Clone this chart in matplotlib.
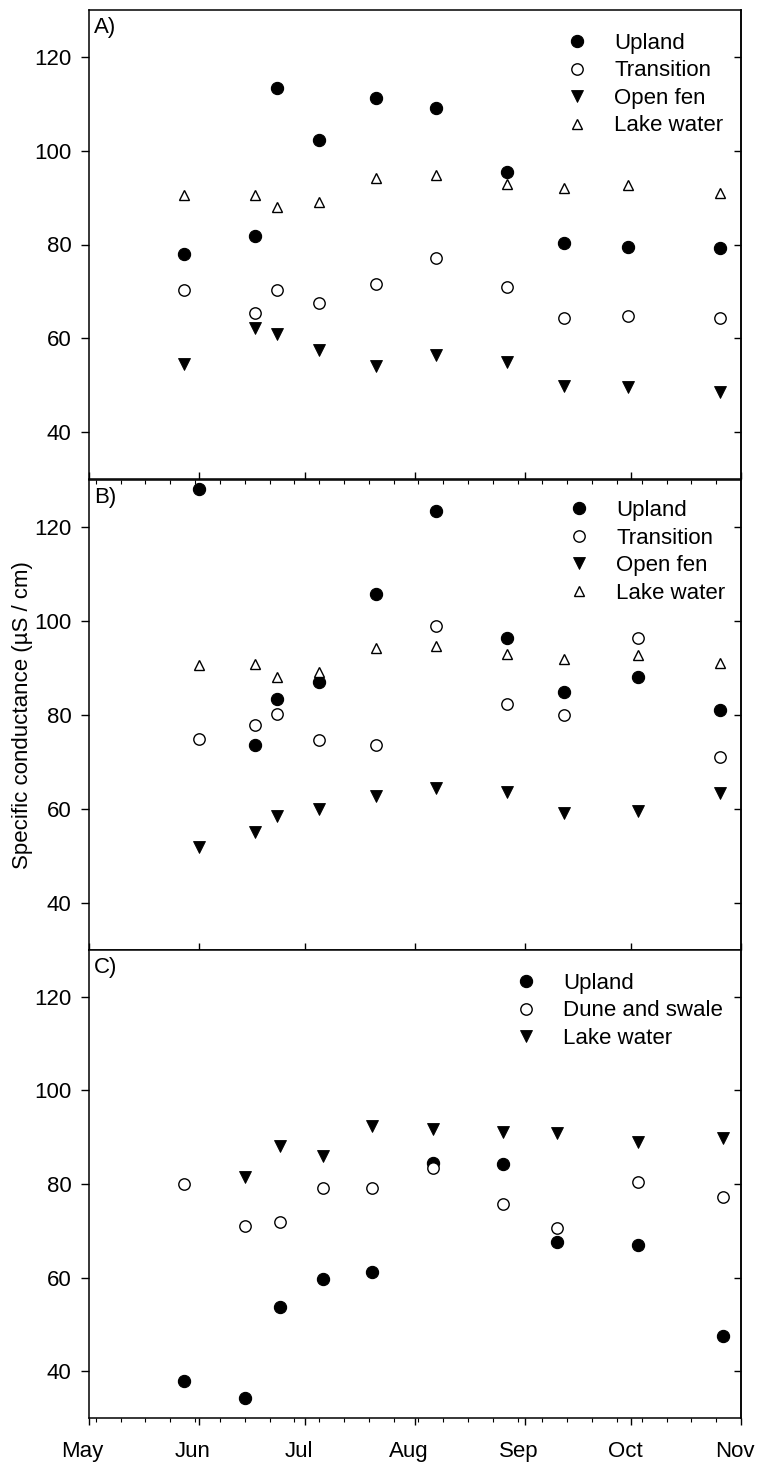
import matplotlib
matplotlib.use("Agg")
import matplotlib.pyplot as plt
import matplotlib.dates as mdates
import matplotlib.transforms as mtransforms
import datetime as dt

plt.rcParams['font.family'] = ['Liberation Sans', 'DejaVu Sans']

# ---------------- data ----------------
dates_A = ["2009-05-28", "2009-06-17", "2009-06-23", "2009-07-05", "2009-07-21",
           "2009-08-07", "2009-08-27", "2009-09-12", "2009-09-30", "2009-10-26"]
upland_A = [77.9, 81.9, 113.4, 102.3, 111.2, 109.2, 95.4, 80.3, 79.5, 79.2]
transition_A = [70.4, 65.3, 70.4, 67.5, 71.6, 77.1, 70.9, 64.3, 64.8, 64.4]
openfen_A = [54.5, 62.3, 60.9, 57.5, 54.2, 56.4, 55.0, 49.9, 49.7, 48.6]
lake_A = [90.6, 90.6, 88.1, 89.1, 94.2, 94.8, 93.0, 92.0, 92.7, 91.0]

dates_B = ["2009-06-01", "2009-06-17", "2009-06-23", "2009-07-05", "2009-07-21",
           "2009-08-07", "2009-08-27", "2009-09-12", "2009-10-03", "2009-10-26"]
upland_B = [128.1, 73.6, 83.3, 87.1, 105.7, 123.3, 96.4, 84.8, 88.1, 81.1]
transition_B = [75.0, 77.9, 80.2, 74.7, 73.6, 98.9, 82.3, 79.9, 96.4, 71.0]
openfen_B = [52.0, 55.2, 58.5, 60.1, 62.8, 64.4, 63.7, 59.1, 59.6, 63.3]
lake_B = [90.6, 90.8, 88.0, 89.1, 94.3, 94.7, 93.0, 92.0, 92.7, 91.1]

dates_C = ["2009-05-28", "2009-06-14", "2009-06-24", "2009-07-06", "2009-07-20",
           "2009-08-06", "2009-08-26", "2009-09-10", "2009-10-03", "2009-10-27"]
upland_C = [37.9, 34.3, 53.7, 59.7, 61.2, 84.4, 84.2, 67.7, 67.0, 47.6]
dune_C = [79.9, 71.0, 71.8, 79.1, 79.2, 83.4, 75.7, 70.6, 80.4, 77.2]
dates_C_lake = dates_C[1:]
lake_C = [81.6, 88.2, 85.9, 92.5, 91.7, 91.2, 90.8, 89.0, 89.9]

month_labels = ["May", "Jun", "Jul", "Aug", "Sep", "Oct", "Nov"]
ytick_vals = [40, 60, 80, 100, 120]
panel_labels = ["A)", "B)", "C)"]
legend_A = ["Upland", "Transition", "Open fen", "Lake water"]
legend_C = ["Upland", "Dune and swale", "Lake water"]
ylabel = "Specific conductance (µS / cm)"


def todates(lst):
    return [dt.datetime.strptime(s, "%Y-%m-%d") for s in lst]


FS = 16
W, H = 761, 1469
fig = plt.figure(figsize=(W / 100, H / 100), dpi=100)

left = 88.7 / W
width = 652.3 / W
rects = [(10, 479), (480, 950), (950, 1418)]
axes = []
for (t, b) in rects:
    ax = fig.add_axes([left, (H - b) / H, width, (b - t) / H])
    axes.append(ax)

st_fill = dict(marker='o', ms=8.8, mfc='black', mec='black', mew=0.8, ls='none')
st_open = dict(marker='o', ms=8.2, mfc='white', mec='black', mew=1.0, ls='none')
st_down = dict(marker='v', ms=8.6, mfc='black', mec='black', mew=0.6, ls='none')
st_up = dict(marker='^', ms=7.8, mfc='white', mec='black', mew=1.0, ls='none')

xmin = dt.datetime(2009, 5, 1)
xmax = dt.datetime(2009, 11, 1)

# Panel A
ax = axes[0]
dA = todates(dates_A)
ax.plot(dA, upland_A, label=legend_A[0], **st_fill)
ax.plot(dA, transition_A, label=legend_A[1], **st_open)
ax.plot(dA, openfen_A, label=legend_A[2], **st_down)
ax.plot(dA, lake_A, label=legend_A[3], **st_up)

# Panel B
ax = axes[1]
dB = todates(dates_B)
ax.plot(dB, upland_B, label=legend_A[0], **st_fill)
ax.plot(dB, transition_B, label=legend_A[1], **st_open)
ax.plot(dB, openfen_B, label=legend_A[2], **st_down)
ax.plot(dB, lake_B, label=legend_A[3], **st_up)

# Panel C
ax = axes[2]
dC = todates(dates_C)
ax.plot(dC, upland_C, label=legend_C[0], **st_fill)
ax.plot(dC, dune_C, label=legend_C[1], **st_open)
ax.plot(todates(dates_C_lake), lake_C, label=legend_C[2], **st_down)

month_ticks = [dt.datetime(2009, m, 1) for m in range(5, 12)]

for i, ax in enumerate(axes):
    ax.set_xlim(xmin, xmax)
    ax.set_ylim(30, 130)
    ax.set_yticks(ytick_vals)
    ax.set_xticks(month_ticks)
    ax.xaxis.set_minor_locator(mdates.WeekdayLocator(byweekday=mdates.SU))
    for s in ax.spines.values():
        s.set_linewidth(1.1)
    ax.tick_params(axis='y', which='major', left=True, right=False, labelleft=True,
                   direction='out', length=5.5, width=1.0, labelsize=FS, pad=7)
    ax.text(0.008, 0.985, panel_labels[i], transform=ax.transAxes,
            ha='left', va='top', fontsize=FS)
    if i < 2:
        ax.tick_params(axis='x', which='major', bottom=True, top=False, direction='in',
                       length=4.8, width=1.0, labelbottom=False)
        ax.tick_params(axis='x', which='minor', bottom=False, top=False)
    if i == 1:
        ax.tick_params(axis='x', which='minor', top=True, bottom=False, direction='in',
                       length=3, width=0.8)
    if i == 2:
        ax.set_xticklabels(month_labels)
        ax.tick_params(axis='x', which='major', bottom=True, top=False, direction='out',
                       length=4.8, width=1.0, labelsize=FS, pad=11.5)
        ax.tick_params(axis='x', which='minor', bottom=True, top=False, direction='out',
                       length=2.9, width=0.8)
        off = mtransforms.ScaledTranslation(-6 / 100, 0, fig.dpi_scale_trans)
        for lab in ax.get_xticklabels():
            lab.set_transform(lab.get_transform() + off)

    # right spine inward ticks
    sec = ax.secondary_yaxis('right')
    sec.set_yticks(ytick_vals)
    sec.tick_params(direction='in', length=5, width=1.0, labelright=False)
    sec.spines['right'].set_linewidth(1.1)

axes[1].set_ylabel(ylabel, fontsize=FS, labelpad=1)

leg_kw = dict(frameon=False, fontsize=FS, handlelength=1.0, handletextpad=1.17,
              labelspacing=0.29, borderpad=0, borderaxespad=0, loc='upper left')
axes[0].legend(bbox_to_anchor=(0.732, 0.951), **leg_kw)
axes[1].legend(bbox_to_anchor=(0.735, 0.957), **leg_kw)
axes[2].legend(bbox_to_anchor=(0.653, 0.951), **leg_kw)

fig.savefig("out.png", dpi=100)
